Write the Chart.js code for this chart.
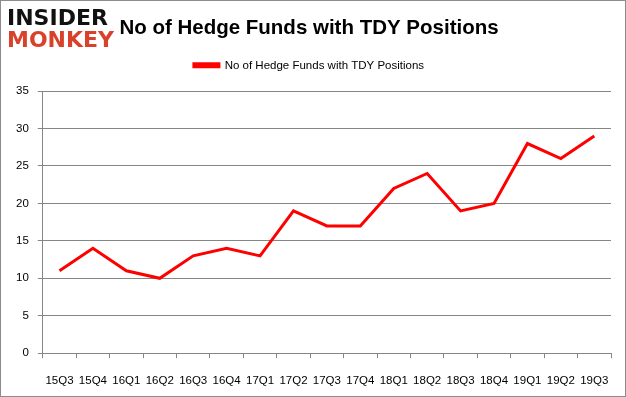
<!DOCTYPE html>
<html><head><meta charset="utf-8">
<script src="https://cdn.jsdelivr.net/npm/chart.js@4"></script>
<style>
html,body{margin:0;padding:0;background:#fff;}
#wrap{position:relative;width:624px;height:395px;border:1px solid #8c8c8c;overflow:hidden;}
#logo{position:absolute;left:6px;top:6px;font-family:"DejaVu Sans",sans-serif;font-weight:900;line-height:22px;font-size:22px;letter-spacing:0px;}
#logo .a{color:#111;}
#logo .b{color:#d9412b;}
canvas{position:absolute;left:0;top:0;}
</style></head>
<body><div id="wrap"><canvas id="c" width="624" height="395"></canvas>
<div id="logo"><div class="a">INSIDER</div><div class="b">MONKEY</div></div></div>
<script>
const categories = ["15Q3","15Q4","16Q1","16Q2","16Q3","16Q4","17Q1","17Q2","17Q3","17Q4","18Q1","18Q2","18Q3","18Q4","19Q1","19Q2","19Q3"];
const hedgeFunds = [11,14,11,10,13,14,13,19,17,17,22,24,19,20,28,26,29];
const seriesName = "No of Hedge Funds with TDY Positions";
const titleText = "No of Hedge Funds with TDY Positions";
const yMin = 0, yMax = 35, yStep = 5;

const legendMargin = {
  id: 'legendMargin',
  afterInit(chart) {
    const lg = chart.legend;
    const orig = lg.fit;
    lg.fit = function () { orig.call(lg); lg.height += 10; };
  }
};

new Chart(document.getElementById('c'), {
  type: 'line',
  data: { labels: categories, datasets: [{ label: seriesName, data: hedgeFunds, borderColor: '#ff0000', backgroundColor: '#ff0000', borderWidth: 3, pointRadius: 0, tension: 0, fill: false }] },
  options: {
    responsive: false, animation: false,
    layout: { padding: { left: 6, right: 14, top: 12, bottom: -8 } },
    plugins: {
      title: { display: true, text: titleText, color: '#000', font: { family: 'Liberation Sans', size: 20.5, weight: 'bold' }, padding: { top: 3, bottom: 9 } },
      legend: { labels: { boxWidth: 25, boxHeight: 3, color: '#000', font: { family: 'Liberation Sans', size: 11.5 } } },
      tooltip: { enabled: false }
    },
    scales: {
      x: { offset: true, grid: { offset: true, drawOnChartArea: false, color: '#868686', tickLength: 5 }, border: { color: '#868686' },
           ticks: { color: '#000', font: { family: 'Liberation Sans', size: 11.5 }, maxRotation: 0, autoSkip: false, padding: 16 } },
      y: { min: yMin, max: yMax, ticks: { stepSize: yStep, color: '#000', font: { family: 'Liberation Sans', size: 11.5 }, padding: 9 },
           grid: { color: '#868686', tickLength: 5 }, border: { color: '#868686' } }
    }
  },
  plugins: [legendMargin]
});
</script></body></html>
